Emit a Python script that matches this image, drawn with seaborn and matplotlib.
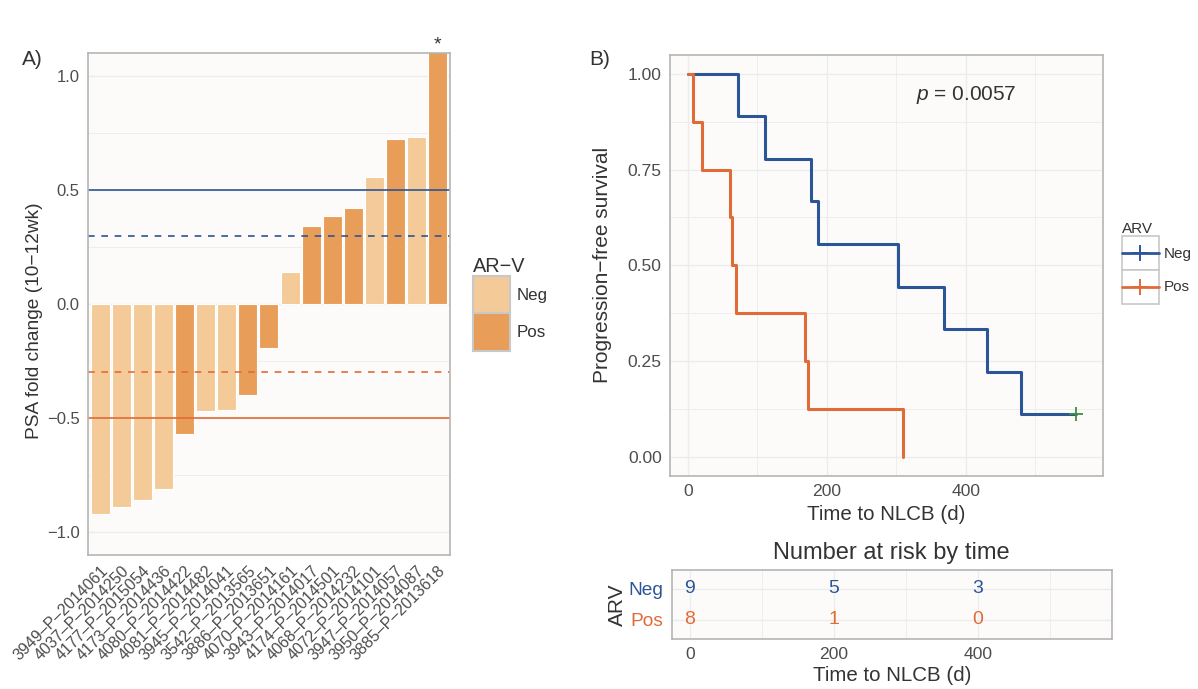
import matplotlib
matplotlib.use("Agg")
import matplotlib.pyplot as plt
import seaborn as sns
import pandas as pd
from matplotlib.patches import Rectangle
from matplotlib.lines import Line2D
from matplotlib.legend_handler import HandlerBase

# ---- data: panel A (waterfall) ----
patients = ["3949–P–2014061", "4037–P–2014250", "4177–P–2015054", "4173–P–2014436",
            "4080–P–2014422", "4081–P–2014482", "3945–P–2014041", "3542–P–2013565",
            "3886–P–2013651", "4070–P–2014161", "3943–P–2014017", "4174–P–2014501",
            "4068–P–2014232", "4072–P–2014101", "3947–P–2014057", "3950–P–2014087",
            "3885–P–2013618"]
psa_change = [-0.92, -0.89, -0.86, -0.81, -0.57, -0.47, -0.466, -0.40, -0.195,
              0.14, 0.34, 0.385, 0.42, 0.555, 0.725, 0.73, 1.35]
arv_status = ["Neg", "Neg", "Neg", "Neg", "Pos", "Neg", "Neg", "Pos", "Pos",
              "Neg", "Pos", "Pos", "Pos", "Neg", "Pos", "Neg", "Pos"]

# ---- data: panel B (Kaplan-Meier steps) ----
neg_time = [0, 72, 111, 177, 188, 303, 368, 430, 479, 559]
neg_surv = [1.0, 0.889, 0.778, 0.667, 0.556, 0.444, 0.333, 0.222, 0.111, 0.111]
pos_time = [0, 8, 21, 61, 64, 70, 169, 173, 309]
pos_surv = [1.0, 0.875, 0.75, 0.625, 0.5, 0.375, 0.25, 0.125, 0.0]
censor_time = [559]
censor_surv = [0.111]

# ---- data: number at risk ----
risk_times = [0, 200, 400]
neg_risk = [9, 5, 3]
pos_risk = [8, 1, 0]

light = "#F4CB98"
dark = "#E89D58"
blue = "#2C5597"
orange = "#E06B36"
panel_bg = "#FCFBFA"
grid_c = "#ECECEC"
border_c = "#B5B5B5"
txt = "#333333"
tick_txt = "#4D4D4D"

sns.set_style("whitegrid")
plt.rcParams["font.family"] = ["Liberation Sans", "DejaVu Sans"]
plt.rcParams["mathtext.fontset"] = "custom"
plt.rcParams["mathtext.it"] = "Liberation Sans:italic"
plt.rcParams["mathtext.rm"] = "Liberation Sans"

fig = plt.figure(figsize=(11.98, 6.89), dpi=100)
fig.patch.set_facecolor("white")


def style_axes(ax, size=12.5):
    ax.set_facecolor(panel_bg)
    for s in ax.spines.values():
        s.set_color(border_c)
        s.set_linewidth(1.2)
    ax.grid(True, which="major", color=grid_c, linewidth=1.0)
    ax.grid(True, which="minor", color=grid_c, linewidth=0.6)
    ax.set_axisbelow(True)
    ax.tick_params(which="major", length=4, width=1, color=txt, labelcolor=tick_txt,
                   labelsize=size, direction="out", pad=2)
    ax.tick_params(which="minor", length=0)


class BoxLineHandler(HandlerBase):
    # ggplot-like key: grey box with a line and a "+" in the middle
    def create_artists(self, legend, orig_handle, xdescent, ydescent, width,
                       height, fontsize, trans):
        x0, y0 = -xdescent, -ydescent
        cy = y0 + height / 2
        rect = Rectangle((x0, y0), width, height, facecolor="white",
                         edgecolor="#C8C8C8", lw=1.2, transform=trans)
        line = Line2D([x0, x0 + width], [cy, cy], color=orig_handle.get_color(),
                      lw=2, transform=trans)
        mark = Line2D([x0 + width / 2], [cy], color=orig_handle.get_color(),
                      marker="+", ms=11, mew=1.4, lw=0, transform=trans)
        return [rect, line, mark]


# ---------------- Panel A ----------------
axA = fig.add_axes([0.0735, 0.1945, 0.3022, 0.7286])
style_axes(axA, 12)
dfA = pd.DataFrame({"patient": patients, "psa": psa_change, "arv": arv_status})
sns.barplot(data=dfA, x="patient", y="psa", hue="arv", order=patients,
            hue_order=["Neg", "Pos"], palette={"Neg": light, "Pos": dark},
            dodge=False, width=0.9, saturation=1, edgecolor="white", linewidth=0.8,
            legend=False, ax=axA)
axA.set_ylim(-1.1, 1.1)
axA.set_xlim(-0.57, len(patients) - 1 + 0.58)
axA.set_yticks([-1.0, -0.5, 0.0, 0.5, 1.0])
axA.set_yticks([-0.75, -0.25, 0.25, 0.75], minor=True)
axA.axhline(0.5, color=blue, lw=1.2)
axA.axhline(0.3, color=blue, lw=1.2, ls=(0, (4, 4)))
axA.axhline(-0.3, color=orange, lw=1.2, ls=(0, (4, 4)))
axA.axhline(-0.5, color=orange, lw=1.2)
axA.set_xlabel("")
axA.set_ylabel("PSA fold change (10−12wk)", fontsize=13.8, color=txt)
axA.yaxis.set_label_coords(-0.125, 0.466)
axA.set_xticks(range(len(patients)))
axA.set_xticklabels(patients, rotation=45, ha="right", rotation_mode="anchor",
                    fontsize=11.5)
axA.text(len(patients) - 1, 1.1, "*", ha="center", va="bottom", fontsize=14,
         color=txt, clip_on=False)
fig.text(0.018, 0.913, "A)", fontsize=15, color=txt, ha="left", va="center")

legA = axA.legend(handles=[Rectangle((0, 0), 1, 1, facecolor=light, edgecolor="#C8C8C8", lw=1.5),
                           Rectangle((0, 0), 1, 1, facecolor=dark, edgecolor="#C8C8C8", lw=1.5)],
                  labels=["Neg", "Pos"], title="AR−V", loc="upper left",
                  bbox_to_anchor=(1.04, 0.61), frameon=False, fontsize=12.2,
                  title_fontsize=14.3, handlelength=2.2, handleheight=3.0,
                  labelspacing=0, handletextpad=0.35, borderpad=0, alignment="left")
for t in legA.get_texts():
    t.set_color(txt)
legA.get_title().set_color(txt)

# ---------------- Panel B ----------------
axB = fig.add_axes([0.5593, 0.3091, 0.3612, 0.6115])
style_axes(axB, 12.6)
dfB = pd.concat([
    pd.DataFrame({"time": neg_time, "surv": neg_surv, "ARV": "Neg"}),
    pd.DataFrame({"time": pos_time, "surv": pos_surv, "ARV": "Pos"}),
])
sns.lineplot(data=dfB, x="time", y="surv", hue="ARV", hue_order=["Neg", "Pos"],
             palette={"Neg": blue, "Pos": orange}, estimator=None, sort=False,
             drawstyle="steps-post", linewidth=2.2, legend=False, ax=axB)
sns.scatterplot(x=censor_time, y=censor_surv, marker="+", s=110, color="#3E8E41",
                linewidth=1.3, ax=axB, zorder=5)
axB.set_xlim(-25.5, 597)
axB.set_ylim(-0.05, 1.05)
axB.set_xticks([0, 200, 400])
axB.set_xticks([100, 300, 500], minor=True)
axB.set_yticks([0, 0.25, 0.5, 0.75, 1.0])
axB.set_yticks([0.125, 0.375, 0.625, 0.875], minor=True)
axB.set_yticklabels(["0.00", "0.25", "0.50", "0.75", "1.00"])
axB.set_xlabel("Time to NLCB (d)", fontsize=14.8, color=txt, labelpad=4)
axB.set_ylabel("Progression−free survival", fontsize=15, color=txt)
axB.yaxis.set_label_coords(-0.134, 0.5)
axB.text(400, 0.945, r"$p$ = 0.0057", fontsize=15, color=txt, ha="center", va="center")
fig.text(0.492, 0.913, "B)", fontsize=15, color=txt, ha="left", va="center")

h_neg = Line2D([], [], color=blue)
h_pos = Line2D([], [], color=orange)
legB = axB.legend(handles=[h_neg, h_pos], labels=["Neg", "Pos"], title="ARV",
                  handler_map={h_neg: BoxLineHandler(), h_pos: BoxLineHandler()},
                  loc="upper left", bbox_to_anchor=(1.027, 0.62), frameon=False,
                  fontsize=11, title_fontsize=11, handlelength=2.4,
                  handleheight=3.0, labelspacing=0, handletextpad=0.3,
                  borderpad=0, alignment="left")
for t in legB.get_texts():
    t.set_color(txt)
legB.get_title().set_color(txt)

# ---------------- Risk table ----------------
axR = fig.add_axes([0.5607, 0.073, 0.3673, 0.0997])
style_axes(axR, 12.6)
axR.set_xlim(-25.4, 586)
axR.set_ylim(0.4, 2.6)
axR.set_xticks([0, 200, 400])
axR.set_xticks([100, 300, 500], minor=True)
axR.set_yticks([1, 2])
axR.set_yticklabels(["Pos", "Neg"], fontsize=13.8)
axR.get_yticklabels()[0].set_color(orange)
axR.get_yticklabels()[1].set_color(blue)
for t, n in zip(risk_times, neg_risk):
    axR.text(t, 2, str(n), color=blue, fontsize=14, ha="center", va="center")
for t, n in zip(risk_times, pos_risk):
    axR.text(t, 1, str(n), color=orange, fontsize=14, ha="center", va="center")
axR.set_xlabel("Time to NLCB (d)", fontsize=14.8, color=txt, labelpad=3)
axR.set_ylabel("ARV", fontsize=15, color=txt, labelpad=1)
axR.set_title("Number at risk by time", fontsize=17, color=txt, pad=8)

fig.savefig("out.png", dpi=100, facecolor="white")
